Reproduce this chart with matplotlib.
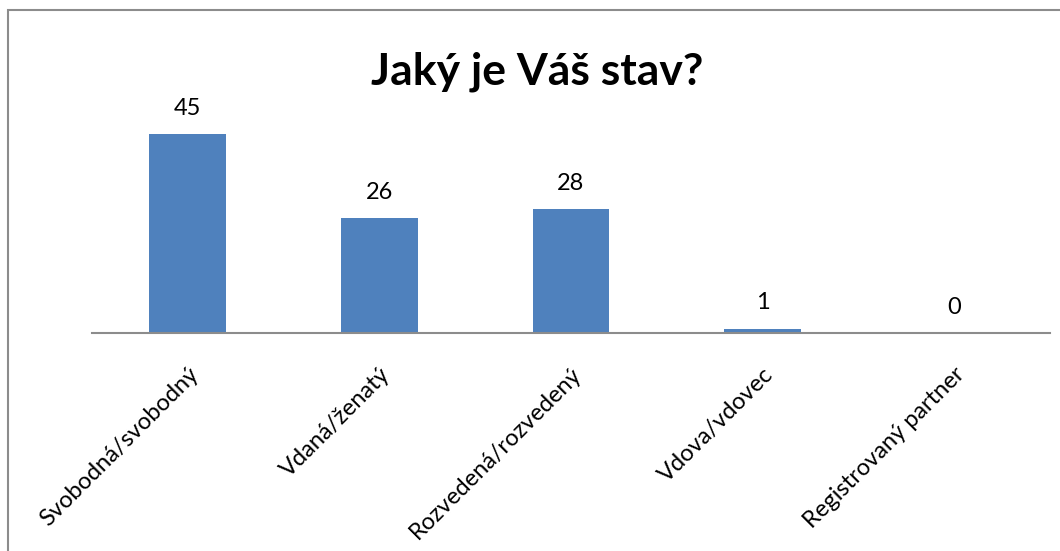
import matplotlib.pyplot as plt
from matplotlib.patches import Rectangle

categories = ["Svobodná/svobodný", "Vdaná/ženatý", "Rozvedená/rozvedený", "Vdova/vdovec", "Registrovaný partner"]
counts = [45, 26, 28, 1, 0]

W, H = 1060, 551
fig = plt.figure(figsize=(W / 100, H / 100), dpi=100)
plt.rcParams['font.family'] = ['Lato', 'DejaVu Sans']

# outer chart frame (cut off at right/bottom like the screenshot)
fig.patches.append(Rectangle((8 / W, -0.05), 1.2, 1 - 10 / H + 0.05, transform=fig.transFigure,
                             fill=False, edgecolor='#8c8c8c', lw=1.5))

ax = fig.add_axes([92 / W, (H - 333) / H, (1050 - 92) / W, (333 - 90) / H])
x = range(len(categories))
bars = ax.bar(x, counts, width=0.4, color='#4f81bd')
ax.set_xlim(-0.5, len(categories) - 0.5)
ax.set_ylim(0, 55)

for xi, v in zip(x, counts):
    ax.annotate(str(v), (xi, v), xytext=(0, 11), textcoords='offset points',
                ha='center', va='bottom', fontsize=17)

for s in ['top', 'right', 'left']:
    ax.spines[s].set_visible(False)
ax.spines['bottom'].set_color('#8c8c8c')
ax.spines['bottom'].set_linewidth(1.5)
ax.set_yticks([])
ax.set_xticks(list(x))
ax.set_xticklabels(categories, rotation=45, ha='right', rotation_mode='anchor', fontsize=17)
ax.tick_params(axis='x', length=0, pad=22)

fig.text(537 / W, 1 - 72 / H, "Jaký je Váš stav?", ha='center', va='center',
         fontsize=32, fontweight='bold')

fig.savefig("out.png", dpi=100)
